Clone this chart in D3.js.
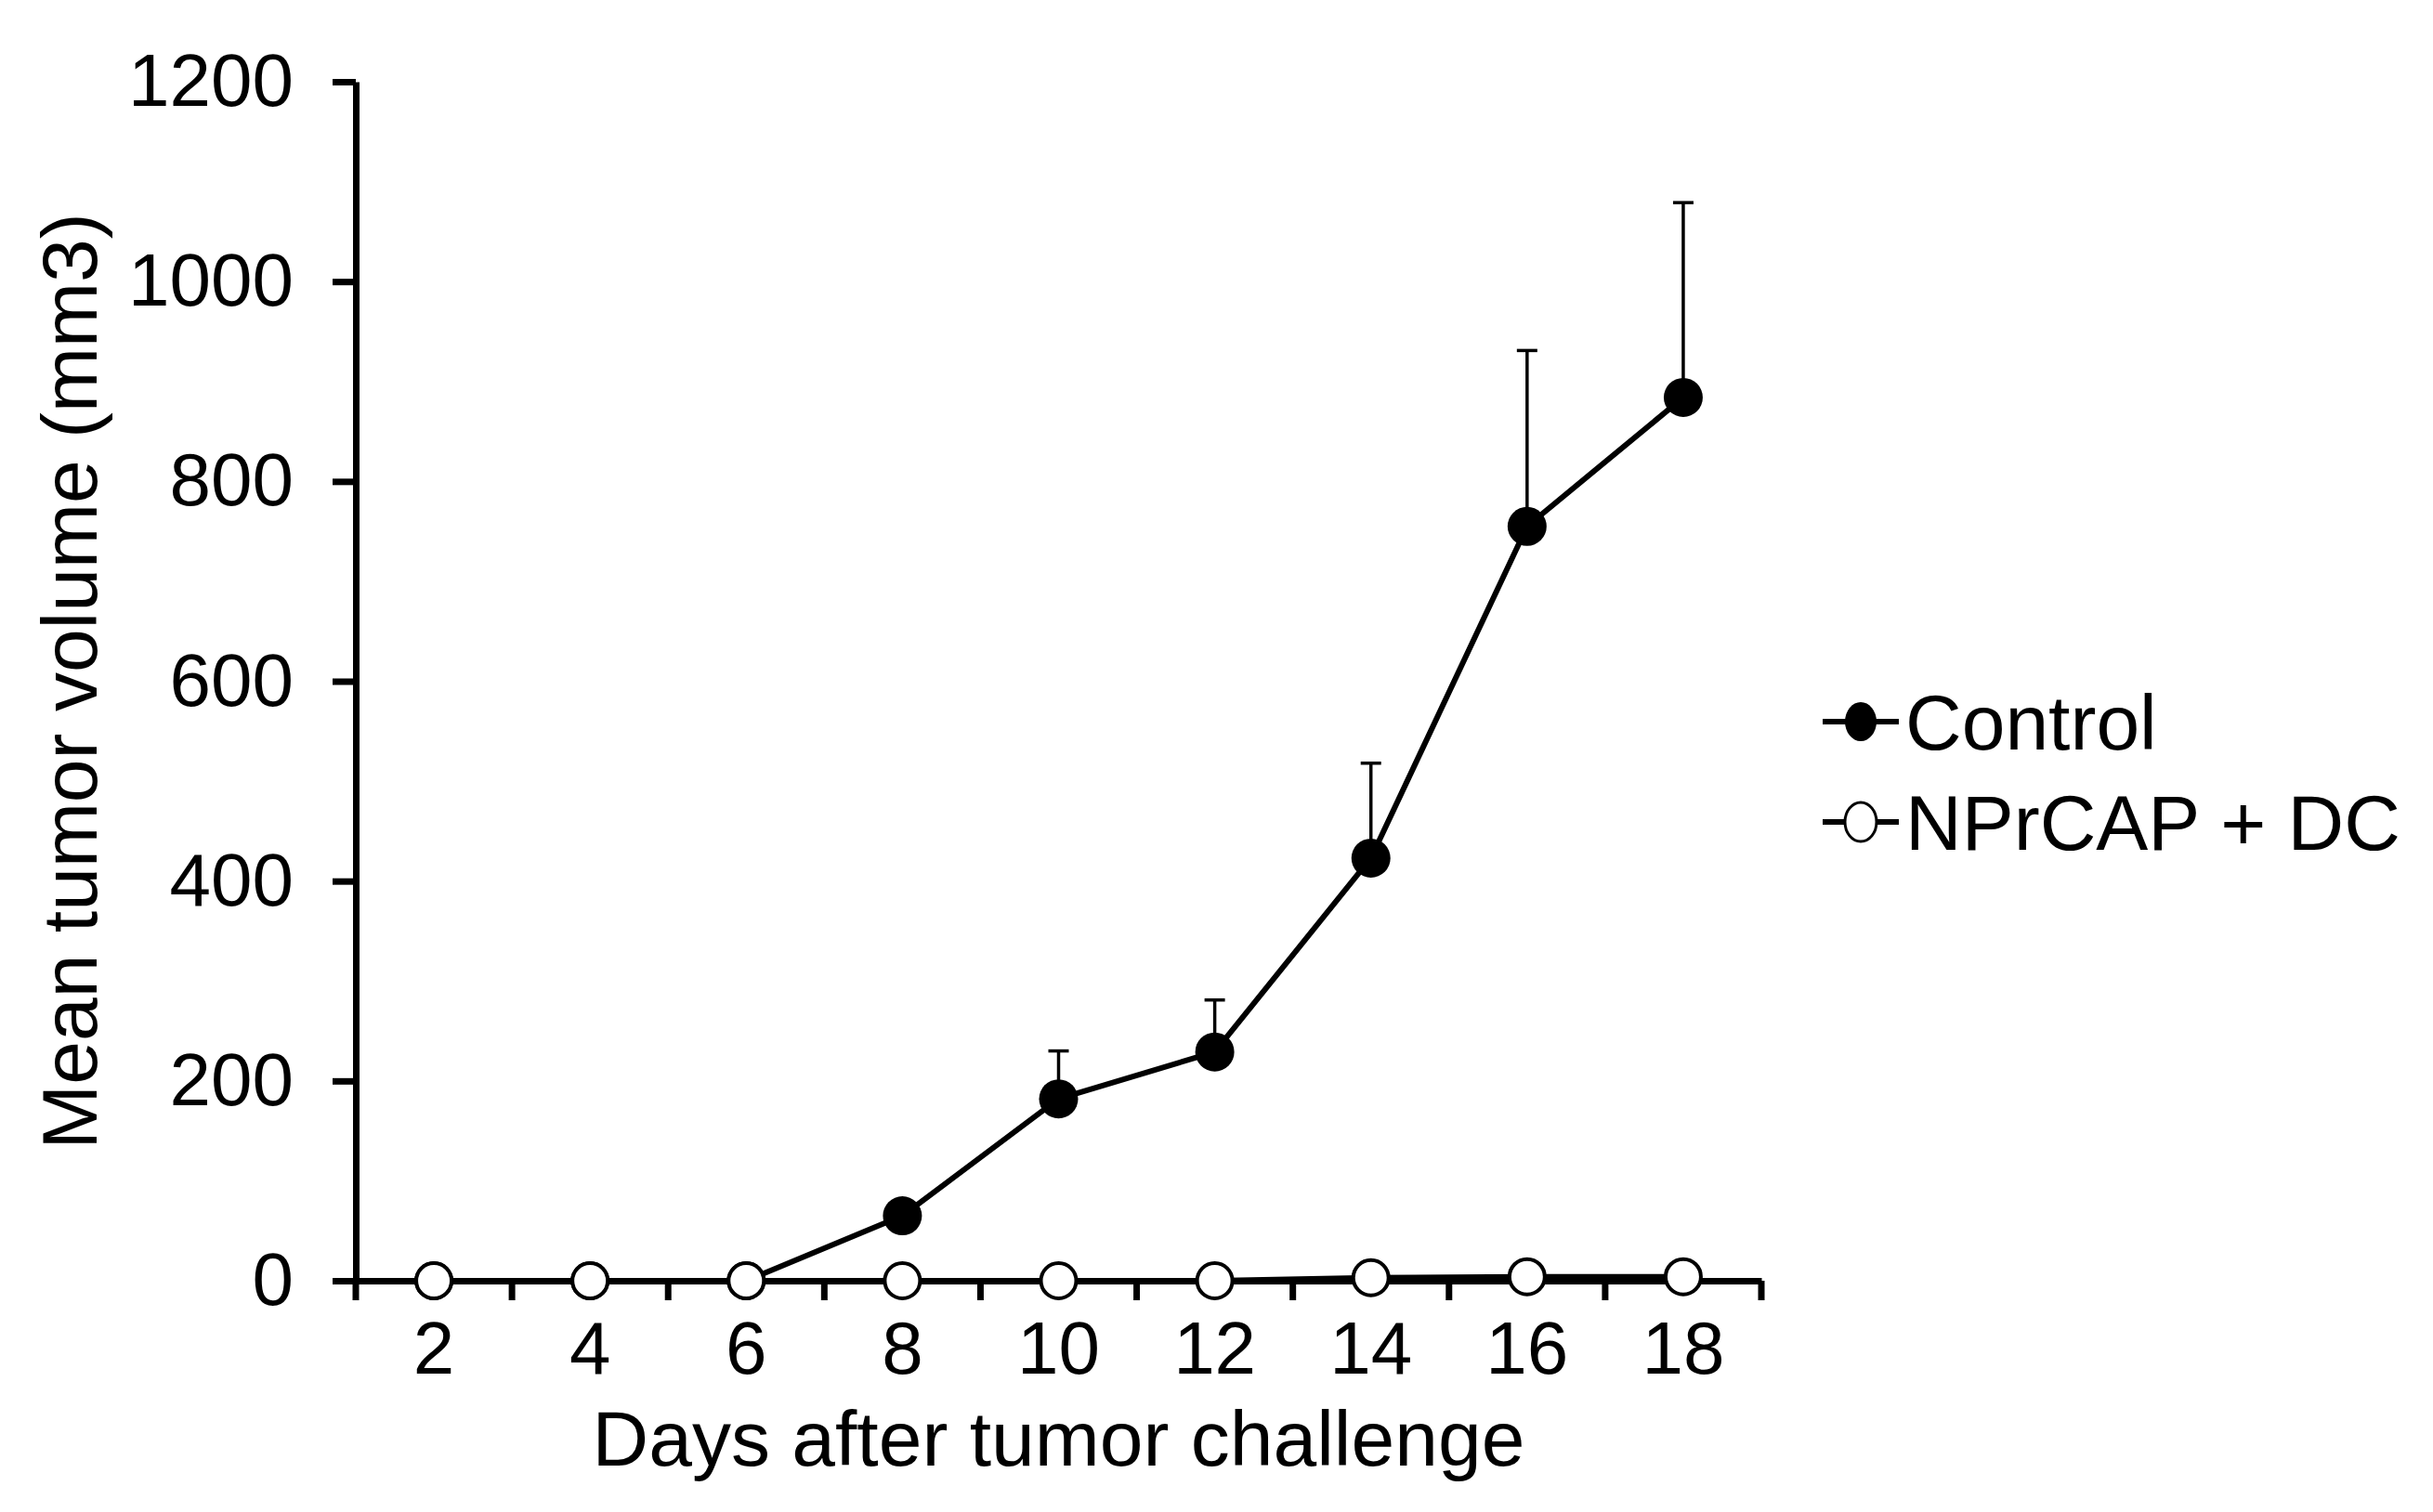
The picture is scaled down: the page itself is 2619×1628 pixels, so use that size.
<!DOCTYPE html>
<html>
<head>
<meta charset="utf-8">
<script src="https://cdn.jsdelivr.net/npm/d3@7"></script>
<style>
  html, body { margin: 0; padding: 0; background: #fff; }
  svg { display: block; }
  text { font-family: "Liberation Sans", Arial, Helvetica, sans-serif; fill: #000; }
</style>
</head>
<body>
<svg id="chart" width="2619" height="1628"></svg>
<script>
const days = ["2", "4", "6", "8", "10", "12", "14", "16", "18"];
const controlValues = [0, 0, 0, 65, 182, 229, 423, 755, 884];
const controlErrors = [0, 0, 0, 8, 48, 52, 95, 176, 195];
const nprcapValues = [0, 0, 0, 0, 0, 0, 3, 4, 4];
const yTicks = [0, 200, 400, 600, 800, 1000, 1200];
const seriesNames = ["Control", "NPrCAP + DC"];
const xTitle = "Days after tumor challenge";
const yTitle = "Mean tumor volume (mm3)";

const svg = d3.select("#chart");
const plotLeft = 383, plotRight = 1896, plotTop = 88, plotBottom = 1379;

const x = d3.scaleBand().domain(days).range([plotLeft, plotRight]).paddingInner(0).paddingOuter(0);
const y = d3.scaleLinear().domain([0, 1200]).range([plotBottom, plotTop]);
const cx = d => x(d) + x.bandwidth() / 2;

// Y axis
const yAxis = svg.append("g").attr("transform", `translate(${plotLeft},0)`)
  .call(d3.axisLeft(y).tickValues(yTicks).tickFormat(d3.format("d")).tickSize(25).tickPadding(42).tickSizeOuter(0));
yAxis.select(".domain").attr("stroke", "#000").attr("stroke-width", 7);
yAxis.selectAll(".tick line").attr("stroke", "#000").attr("stroke-width", 7);
yAxis.selectAll(".tick text").attr("font-size", 80).attr("font-family", "Liberation Sans, Arial, sans-serif").attr("fill", "#000");

// X axis
const xAxis = svg.append("g").attr("transform", `translate(0,${plotBottom})`)
  .call(d3.axisBottom(x).tickSize(0).tickPadding(40));
xAxis.select(".domain").attr("stroke", "#000").attr("stroke-width", 7);
xAxis.selectAll(".tick text").attr("font-size", 80).attr("font-family", "Liberation Sans, Arial, sans-serif").attr("fill", "#000").attr("dy", "0.75em");
// boundary ticks between categories
const boundaries = days.map(d => x(d)).concat([plotRight]);
svg.append("g").selectAll("line").data(boundaries).join("line")
  .attr("x1", d => d).attr("x2", d => d)
  .attr("y1", plotBottom).attr("y2", plotBottom + 21)
  .attr("stroke", "#000").attr("stroke-width", 7);

// axis titles
svg.append("text").attr("x", (plotLeft + plotRight) / 2).attr("y", 1578)
  .attr("text-anchor", "middle").attr("font-size", 84).text(xTitle);
svg.append("text").attr("transform", `translate(104,${(plotTop + plotBottom) / 2}) rotate(-90)`)
  .attr("text-anchor", "middle").attr("font-size", 84).text(yTitle);

const line = d3.line().x(d => cx(d[0])).y(d => y(d[1]));
const controlData = days.map((d, i) => [d, controlValues[i], controlErrors[i]]);
const nprData = days.map((d, i) => [d, nprcapValues[i]]);

// Error bars (control)
const eb = svg.append("g");
eb.selectAll("line.v").data(controlData.filter(d => d[2] > 0)).join("line")
  .attr("class", "v")
  .attr("x1", d => cx(d[0])).attr("x2", d => cx(d[0]))
  .attr("y1", d => y(d[1])).attr("y2", d => y(d[1] + d[2]))
  .attr("stroke", "#000").attr("stroke-width", 3.5);
eb.selectAll("line.c").data(controlData.filter(d => d[2] > 0)).join("line")
  .attr("class", "c")
  .attr("x1", d => cx(d[0]) - 11).attr("x2", d => cx(d[0]) + 11)
  .attr("y1", d => y(d[1] + d[2])).attr("y2", d => y(d[1] + d[2]))
  .attr("stroke", "#000").attr("stroke-width", 3.5);

// Control line + markers
svg.append("path").datum(controlData).attr("d", line)
  .attr("fill", "none").attr("stroke", "#000").attr("stroke-width", 6).attr("stroke-linejoin", "round");
svg.append("g").selectAll("circle").data(controlData).join("circle")
  .attr("cx", d => cx(d[0])).attr("cy", d => y(d[1])).attr("r", 21)
  .attr("fill", "#000");

// NPrCAP line + markers
svg.append("path").datum(nprData).attr("d", line)
  .attr("fill", "none").attr("stroke", "#000").attr("stroke-width", 6);
svg.append("g").selectAll("circle").data(nprData).join("circle")
  .attr("cx", d => cx(d[0])).attr("cy", d => y(d[1])).attr("r", 19)
  .attr("fill", "#fff").attr("stroke", "#000").attr("stroke-width", 4);

// Legend
const legend = svg.append("g");
const legY = [777, 885];
seriesNames.forEach((name, i) => {
  const g = legend.append("g").attr("transform", `translate(2003,${legY[i]})`);
  g.append("line").attr("x1", -41).attr("x2", 41).attr("y1", 0).attr("y2", 0)
    .attr("stroke", "#000").attr("stroke-width", 6);
  g.append("ellipse").attr("rx", 17).attr("ry", 21)
    .attr("fill", i === 0 ? "#000" : "#fff").attr("stroke", "#000").attr("stroke-width", i === 0 ? 0 : 3);
  g.append("text").attr("x", 48).attr("dy", "0.36em").attr("font-size", 84).text(name);
});
</script>
</body>
</html>
